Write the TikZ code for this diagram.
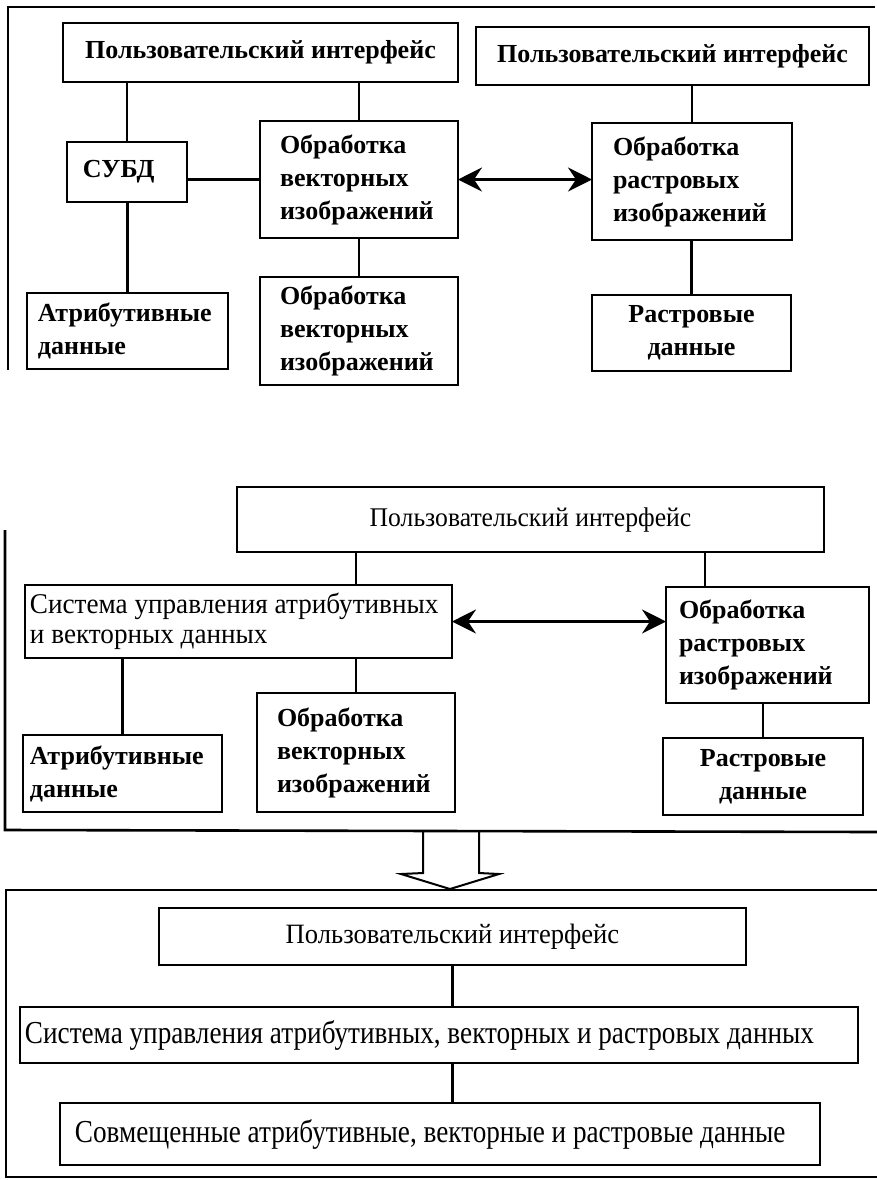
\documentclass[tikz,border=0pt]{standalone}
\usepackage{fontspec}
\setmainfont{Liberation Serif}
\newfontfamily\cndfont[FakeStretch=0.85]{Liberation Serif}
\newfontfamily\midfont[FakeStretch=0.95]{Liberation Serif}
\usetikzlibrary{arrows.meta}
\hyphenpenalty=10000
\exhyphenpenalty=10000

\tikzset{
  box/.style={draw, line width=1.4pt, inner ysep=0pt, outer sep=0pt},
  link/.style={line width=1.4pt},
  frameline/.style={line width=1.3pt},
  twoway/.style={line width=1.4pt,
    {Stealth[length=12pt,width=12pt,inset=4pt]}-{Stealth[length=12pt,width=12pt,inset=4pt]}},
  hollow/.style={line width=1pt, line join=miter},
  topf/.style={font=\fontsize{13}{16.5}\selectfont\bfseries},
  midsys/.style={font=\midfont\fontsize{14.3}{15}\selectfont},
  midpi/.style={font=\midfont\fontsize{13.5}{16}\selectfont},
  botpi/.style={font=\midfont\fontsize{14}{16}\selectfont},
  botf/.style={font=\cndfont\fontsize{16}{18}\selectfont},
}

% left-aligned box: name, x1, y1, x2, y2, pad, style, text
\newcommand{\lbox}[8]{%
  \pgfmathsetmacro\myw{(#4-#2-2*#6)*0.5}%
  \pgfmathsetmacro\myh{(#5-#3)*0.5}%
  \pgfmathsetmacro\myp{#6*0.5}%
  \node[box,#7,align=flush left,text width=\myw pt,inner xsep=\myp pt,minimum height=\myh pt]
    (#1) at ({(#2+#4)/2},{(#3+#5)/2}) {#8};}
% centred box
\newcommand{\cbox}[8]{%
  \pgfmathsetmacro\myw{(#4-#2-2*#6)*0.5}%
  \pgfmathsetmacro\myh{(#5-#3)*0.5}%
  \pgfmathsetmacro\myp{#6*0.5}%
  \node[box,#7,align=flush center,text width=\myw pt,inner xsep=\myp pt,minimum height=\myh pt]
    (#1) at ({(#2+#4)/2},{(#3+#5)/2}) {#8};}

\begin{document}
\begin{tikzpicture}[x=0.5pt,y=-0.5pt]
\useasboundingbox (0,0) rectangle (877,1180);

% ---------- top section ----------
\draw[frameline] (8,370) -- (8,7) -- (875,7);
\cbox{pia}{63}{23}{458}{82}{5}{topf}{Пользовательский интерфейс}
\cbox{pib}{476}{27}{869}{85}{5}{topf}{Пользовательский интерфейс}
\lbox{subd}{67}{142}{187}{202}{16}{topf}{СУБД}
\lbox{atra}{27}{293}{228}{369}{11}{topf}{Атрибутивные\\данные}
\lbox{veca}{260}{121}{458}{238}{20}{topf}{Обработка\\векторных\\изображений}
\lbox{vecb}{260}{277}{458}{385}{20}{topf}{Обработка\\векторных\\изображений}
\lbox{rasta}{592}{123}{792}{240}{21}{topf}{Обработка\\растровых\\изображений}
\cbox{rdata}{592}{295}{791}{371}{5}{topf}{Растровые\\данные}

\draw[link] (subd.north) -- (subd.north |- pia.south);
\draw[link] (atra.north) -- (atra.north |- subd.south);
\draw[link] (veca.north) -- (veca.north |- pia.south);
\draw[link] (veca.west) -- (veca.west -| subd.east);
\draw[link] (veca.south) -- (vecb.north);
\draw[twoway] (veca.east) -- (veca.east -| rasta.west);
\draw[link] (rasta.north) -- (rasta.north |- pib.south);
\draw[link] (rdata.north) -- (rdata.north |- rasta.south);

% ---------- middle section ----------
\draw[frameline] (5,530) -- (5,830) -- (877,832);
\cbox{pim}{237}{487}{824}{552}{5}{midpi}{Пользовательский интерфейс}
\lbox{sysm}{25}{585}{452}{658}{5}{midsys}{Система управления атрибутивных\\и векторных данных}
\lbox{rastm}{666}{587}{869}{703}{13}{topf}{Обработка\\растровых\\изображений}
\lbox{atrm}{23}{735}{222}{812}{7}{topf}{Атрибутивные\\данные}
\lbox{vecm}{257}{693}{455}{812}{20}{topf}{Обработка\\векторных\\изображений}
\cbox{rdatam}{663}{738}{863}{815}{5}{topf}{Растровые\\данные}

\draw[link] (vecm.north |- pim.south) -- (vecm.north |- sysm.north);
\draw[link] ([xshift=19.5pt]rastm.north west) -- ([xshift=19.5pt]rastm.north west |- pim.south);
\draw[link] (atrm.north) -- (atrm.north |- sysm.south);
\draw[link] (vecm.north) -- (vecm.north |- sysm.south);
\draw[twoway] (sysm.east) -- (sysm.east -| rastm.west);
\draw[link] (rdatam.north) -- (rdatam.north |- rastm.south);

% ---------- transition arrow ----------
\draw[hollow] (423,832) -- (423,873) -- (401,874) -- (450,889) -- (499,874) -- (479,873) -- (479,832);

% ---------- bottom section ----------
\draw[frameline] (877,890) -- (6,890) -- (6,1177) -- (877,1177);
\cbox{pibot}{159}{908}{746}{965}{5}{botpi}{Пользовательский интерфейс}
\lbox{sysb}{20}{1007}{858}{1063}{5}{botf}{Система управления атрибутивных, векторных и растровых данных}
\lbox{comb}{60}{1103}{820}{1165}{15}{botf}{Совмещенные атрибутивные, векторные и растровые данные}

\draw[link] (pibot.south) -- (pibot.south |- sysb.north);
\draw[link] (pibot.south |- sysb.south) -- (pibot.south |- comb.north);
\end{tikzpicture}
\end{document}
